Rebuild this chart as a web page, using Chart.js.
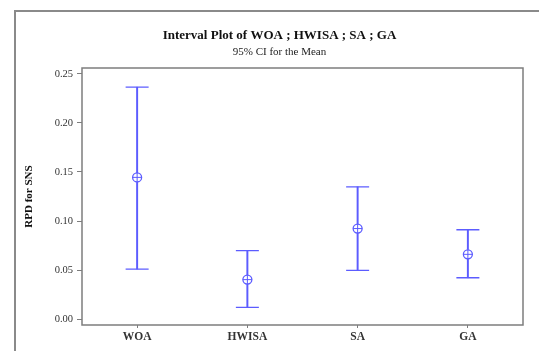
<!DOCTYPE html>
<html>
<head>
<meta charset="utf-8">
<script src="https://cdn.jsdelivr.net/npm/chart.js@4/dist/chart.umd.min.js"></script>
<style>
  html, body { margin: 0; padding: 0; background: #fff; }
  #wrap { width: 539px; height: 351px; }
</style>
</head>
<body>
<div id="wrap"><canvas id="chart" width="539" height="351"></canvas></div>
<script>
const categories = ["WOA", "HWISA", "SA", "GA"];
const means = [0.1445, 0.0402, 0.0923, 0.066];
const lowers = [0.051, 0.0118, 0.0496, 0.0421];
const uppers = [0.2365, 0.0697, 0.1349, 0.0911];
const yTicks = [0.0, 0.05, 0.1, 0.15, 0.2, 0.25];

const blue = "#5c5cff";
const frameGray = "#7d7d7d";
const serif = "'Liberation Serif', 'DejaVu Serif', serif";

// gray outer frame of the figure and the box round the plot
const framePlugin = {
  id: "frames",
  beforeDraw(chart) {
    const { ctx, chartArea } = chart;
    ctx.save();
    ctx.strokeStyle = "#8a8a8a";
    ctx.lineWidth = 2;
    ctx.beginPath();
    ctx.moveTo(15, 351);
    ctx.lineTo(15, 11);
    ctx.lineTo(539, 11);
    ctx.stroke();
    ctx.strokeStyle = frameGray;
    ctx.lineWidth = 1.5;
    ctx.strokeRect(chartArea.left, chartArea.top, chartArea.right - chartArea.left, chartArea.bottom - chartArea.top);
    ctx.restore();
  }
};

new Chart(document.getElementById("chart"), {
  type: "bar",
  data: {
    labels: categories,
    datasets: [
      {
        label: "CI",
        data: lowers.map((lo, i) => [lo, uppers[i]]),
        backgroundColor: blue,
        barThickness: 1.3,
        order: 3
      },
      {
        type: "line",
        label: "upper",
        data: uppers,
        showLine: false,
        pointStyle: "line",
        pointRadius: 11.5,
        pointBorderColor: blue,
        pointBorderWidth: 1.3,
        order: 2
      },
      {
        type: "line",
        label: "lower",
        data: lowers,
        showLine: false,
        pointStyle: "line",
        pointRadius: 11.5,
        pointBorderColor: blue,
        pointBorderWidth: 1.3,
        order: 2
      },
      {
        type: "line",
        label: "mean",
        data: means,
        showLine: false,
        pointStyle: "circle",
        pointRadius: 4.5,
        pointBackgroundColor: "#ffffff",
        pointBorderColor: blue,
        pointBorderWidth: 1.3,
        order: 1
      },
      {
        type: "line",
        label: "mean cross",
        data: means,
        showLine: false,
        pointStyle: "cross",
        pointRadius: 4.5,
        pointBorderColor: blue,
        pointBorderWidth: 1,
        order: 0
      }
    ]
  },
  options: {
    responsive: false,
    animation: false,
    events: [],
    layout: { padding: { left: 20, right: 0, top: 0, bottom: 0 } },
    plugins: {
      legend: { display: false },
      tooltip: { enabled: false },
      title: {
        display: true,
        text: "Interval Plot of WOA ; HWISA ; SA ; GA",
        color: "#111",
        font: { family: serif, size: 13, weight: "bold", lineHeight: 1.2 },
        padding: { top: 28.2, bottom: 0 }
      },
      subtitle: {
        display: true,
        text: "95% CI for the Mean",
        color: "#222",
        font: { family: serif, size: 11, lineHeight: 1.2 },
        padding: { top: 1.3, bottom: 9.7 }
      }
    },
    scales: {
      x: {
        offset: true,
        grid: { display: true, offset: false, drawOnChartArea: false, drawTicks: true, tickLength: 3, color: frameGray },
        border: { display: false },
        ticks: { color: "#333", padding: 2, font: { family: serif, size: 11.5, weight: "bold" } },
        afterFit(scale) { scale.height = 26; }
      },
      y: {
        min: -0.0061,
        max: 0.2561,
        grid: { display: true, drawOnChartArea: false, drawTicks: true, tickLength: 5, color: frameGray },
        border: { display: false },
        afterBuildTicks(scale) { scale.ticks = yTicks.map(v => ({ value: v })); },
        ticks: {
          color: "#333",
          padding: 4,
          font: { family: serif, size: 10.5 },
          callback: v => Number(v).toFixed(2)
        },
        title: {
          display: true,
          text: "RPD for SNS",
          color: "#111",
          font: { family: serif, size: 11, weight: "bold", lineHeight: 1.2 },
          padding: { top: 3, bottom: 0 }
        },
        afterFit(scale) { scale.width = 62; }
      },
      // empty right-hand axis, only keeps the plot box off the right edge
      yRight: {
        position: "right",
        display: true,
        grid: { display: false },
        border: { display: false },
        ticks: { display: false },
        afterFit(scale) { scale.width = 16; }
      }
    }
  },
  plugins: [framePlugin]
});
</script>
</body>
</html>
